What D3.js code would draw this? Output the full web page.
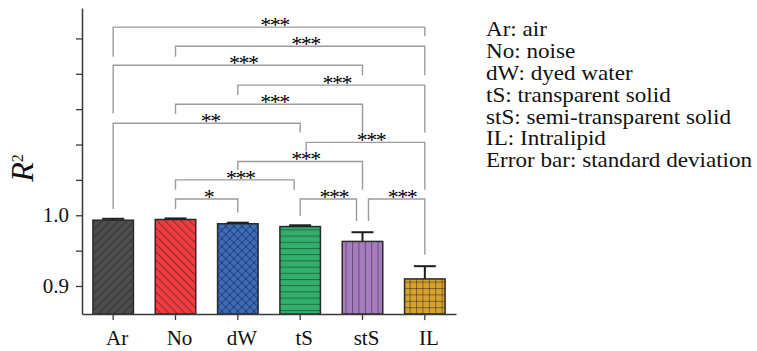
<!DOCTYPE html>
<html>
<head>
<meta charset="utf-8">
<script src="https://cdn.jsdelivr.net/npm/d3@7"></script>
<style>
  body { margin: 0; background: #fff; }
  svg { display: block; font-family: "Liberation Serif", "Times New Roman", serif; }
</style>
</head>
<body>
<div id="chart"></div>
<script>
// data
const categories = ["Ar", "No", "dW", "tS", "stS", "IL"];
const means      = [0.993, 0.994, 0.988, 0.984, 0.963, 0.910];
const stdevs     = [0.002, 0.0015, 0.0015, 0.0018, 0.013, 0.018];
const yTicks     = [0.9, 0.95, 1.0, 1.05, 1.1, 1.15, 1.2, 1.25];
const legendText = ["Ar: air", "No: noise", "dW: dyed water", "tS: transparent solid",
                    "stS: semi-transparent solid", "IL: Intralipid", "Error bar: standard deviation"];

// significance brackets: from, to, bracket level, left leg end, right leg end, stars
const brFrom  = ["Ar", "No", "Ar", "dW", "No", "Ar", "tS", "dW", "No", "No", "tS", "stS"];
const brTo    = ["IL", "IL", "stS", "IL", "stS", "tS", "IL", "stS", "tS", "dW", "stS", "IL"];
const brLevel = [1.266, 1.239, 1.212, 1.184, 1.157, 1.130, 1.103, 1.076, 1.050, 1.023, 1.023, 1.023];
const brLeft  = [1.224, 1.224, 1.144, 1.170, 1.143, 1.009, 1.090, 1.064, 1.036, 1.009, 0.999, 0.992];
const brRight = [1.253, 1.198, 1.198, 1.117, 1.117, 1.117, 1.036, 1.036, 1.036, 1.004, 0.992, 0.944];
const brStars = ["***", "***", "***", "***", "***", "**", "***", "***", "***", "*", "***", "***"];
// legs that are nudged sideways so neighbouring brackets don't share a line
const brFromShift = [0, 0, 0, 0, 0, 0, 1, 0, 0, 0, 0, 1];
const brToShift   = [0, 0, 0, 0, 0, 0, 0, 0, -1, 0, -1, 0];

const width = 757, height = 351;
const margin = { top: 8, left: 82, bottom: 37 };
const plotRight = 456;

const fills = ["#4d4d4d", "#ef3c3f", "#3b6cc0", "#30b06b", "#a67cbf", "#d6a32f"];

const svg = d3.select("#chart")
  .append("svg")
  .attr("width", width)
  .attr("height", height);

const x = d3.scaleBand()
  .domain(categories)
  .range([margin.left, plotRight])
  .paddingInner(0.35)
  .paddingOuter(0.175);

const y = d3.scaleLinear()
  .domain([0.8604, 1.293])
  .range([height - margin.bottom, margin.top]);

// hatch patterns
const defs = svg.append("defs");
const hatch = "rgba(20,20,20,0.45)";
function pattern(id, size, rot, draw) {
  const p = defs.append("pattern")
    .attr("id", id)
    .attr("patternUnits", "userSpaceOnUse")
    .attr("width", size).attr("height", size);
  if (rot) p.attr("patternTransform", `rotate(${rot})`);
  draw(p, size);
}
const vline = (p, s) => p.append("line").attr("x1", 0.5).attr("x2", 0.5).attr("y1", 0).attr("y2", s)
  .attr("stroke", hatch).attr("stroke-width", 1);
const hline = (p, s) => p.append("line").attr("y1", 0.5).attr("y2", 0.5).attr("x1", 0).attr("x2", s)
  .attr("stroke", hatch).attr("stroke-width", 1);

pattern("p0", 5.7, 45, vline);
pattern("p1", 5.7, -45, vline);
pattern("p2", 5.7, 45, (p, s) => { vline(p, s); hline(p, s); });
pattern("p3", 6.2, 0, hline);
pattern("p4", 6.4, 0, vline);
pattern("p5", 6.4, 0, (p, s) => { vline(p, s); hline(p, s); });

// bars
const bars = svg.append("g");
categories.forEach((c, i) => {
  const x0 = x(c), w = x.bandwidth();
  const yTop = y(means[i]), yBase = y.range()[0];
  bars.append("rect")
    .attr("x", x0).attr("y", yTop).attr("width", w).attr("height", yBase - yTop)
    .attr("fill", fills[i]);
  bars.append("rect")
    .attr("x", x0).attr("y", yTop).attr("width", w).attr("height", yBase - yTop)
    .attr("fill", `url(#p${i})`)
    .attr("stroke", "#2a2a2a").attr("stroke-width", 1.5);
});

// error bars (upper only)
const err = svg.append("g").attr("stroke", "#1e1e1e").attr("stroke-width", 2);
categories.forEach((c, i) => {
  const cx = x(c) + x.bandwidth() / 2;
  const y1 = y(means[i]), y2 = y(means[i] + stdevs[i]);
  err.append("line").attr("x1", cx).attr("x2", cx).attr("y1", y1).attr("y2", y2);
  err.append("line").attr("x1", cx - 11).attr("x2", cx + 11).attr("y1", y2).attr("y2", y2);
});

// axes
const yAxis = d3.axisLeft(y)
  .tickValues(yTicks)
  .tickSize(6)
  .tickSizeOuter(0)
  .tickPadding(7)
  .tickFormat(d => (Math.abs(d - 0.9) < 1e-9 || Math.abs(d - 1.0) < 1e-9) ? d3.format(".1f")(d) : "");

const yG = svg.append("g")
  .attr("transform", `translate(${margin.left},0)`)
  .call(yAxis);

const xAxis = d3.axisBottom(x).tickSize(6).tickSizeOuter(0);
const xG = svg.append("g")
  .attr("transform", `translate(0,${y.range()[0]})`)
  .call(xAxis);

[yG, xG].forEach(g => {
  g.select(".domain").attr("stroke", "#3a3a3a").attr("stroke-width", 1.5);
  g.selectAll(".tick line").attr("stroke", "#3a3a3a").attr("stroke-width", 1.3);
  g.selectAll("text")
    .attr("font-family", "Liberation Serif, serif")
    .attr("font-size", 21)
    .attr("fill", "#111");
});
xG.selectAll("text").attr("y", 31).attr("dy", 0).attr("dx", 4);

// y title R²
const title = svg.append("text")
  .attr("transform", "translate(33,168) rotate(-90)")
  .attr("text-anchor", "middle")
  .attr("fill", "#111");
title.append("tspan").attr("font-style", "italic").attr("font-size", 32).text("R");
title.append("tspan").attr("font-size", 16).attr("dy", -10).text("2");

// significance brackets
const brG = svg.append("g");
const nudge = 6;
brFrom.forEach((a, i) => {
  const xa = x(a) + x.bandwidth() / 2 + brFromShift[i] * nudge;
  const xb = x(brTo[i]) + x.bandwidth() / 2 + brToShift[i] * nudge;
  const yl = y(brLevel[i]);
  brG.append("path")
    .attr("d", `M${xa},${y(brLeft[i])}V${yl}H${xb}V${y(brRight[i])}`)
    .attr("fill", "none")
    .attr("stroke", "#9c9c9c")
    .attr("stroke-width", 1.4);
  brG.append("text")
    .attr("x", (xa + xb) / 2 + brStars[i].length * 1.8)
    .attr("y", yl + 5)
    .attr("text-anchor", "middle")
    .attr("font-size", 22)
    .attr("letter-spacing", -1.5)
    .attr("fill", "#000")
    .text(brStars[i]);
});

// legend text
svg.append("g")
  .attr("transform", "translate(486,0) scale(1.1,1)")
  .selectAll("text")
  .data(legendText)
  .join("text")
  .attr("x", 0)
  .attr("y", (d, i) => 36.5 + i * 21.8)
  .attr("font-size", 21)
  .attr("fill", "#111")
  .text(d => d);
</script>
</body>
</html>
